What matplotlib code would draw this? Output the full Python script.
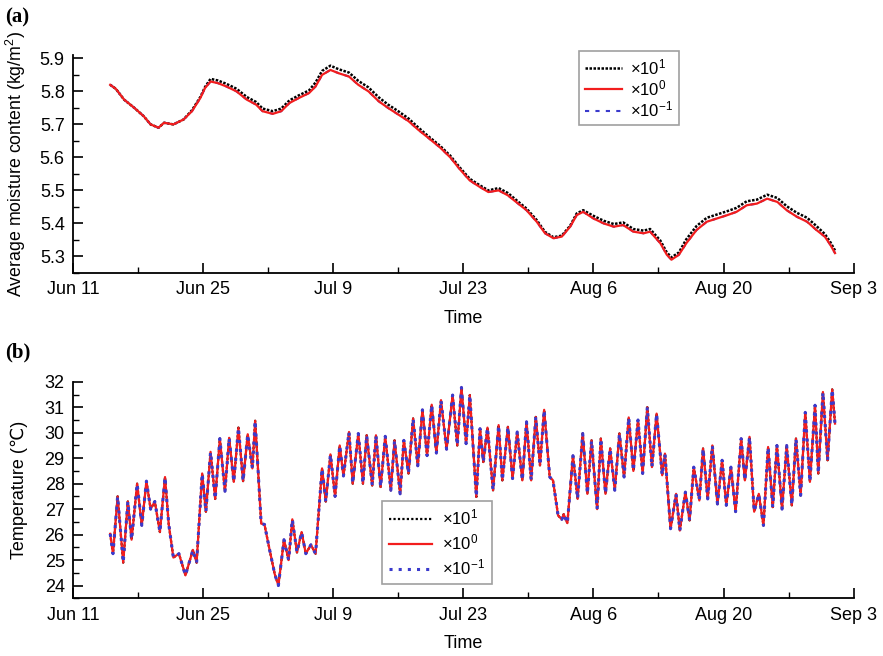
import matplotlib
matplotlib.use("Agg")
import matplotlib.pyplot as plt
from matplotlib.ticker import MultipleLocator

plt.rcParams['font.family'] = ['Liberation Sans', 'DejaVu Sans', 'Noto Sans CJK SC']
plt.rcParams['mathtext.fontset'] = 'custom'
plt.rcParams['mathtext.rm'] = 'Liberation Sans'
plt.rcParams['mathtext.it'] = 'Liberation Sans:italic'

# x axis: days since Jun 11
tick_days = [0, 14, 28, 42, 56, 70, 84]
tick_labels = ["Jun 11", "Jun 25", "Jul 9", "Jul 23", "Aug 6", "Aug 20", "Sep 3"]
series_labels = [r"$\times$10$^{1}$", r"$\times$10$^{0}$", r"$\times$10$^{-1}$"]

# (a) average moisture content
moist_day = [4.0, 4.6, 5.5, 6.6, 7.6, 8.35, 9.2, 9.8, 10.8, 11.9,
             12.8, 13.7, 14.2, 14.8, 15.6, 16.5, 17.6, 18.7, 19.7, 20.4,
             21.5, 22.4, 23.3, 24.3, 25.4, 26.1, 26.8, 27.7, 28.6, 29.7,
             30.7, 31.8, 32.9, 33.9, 35.0, 36.1, 37.1, 38.2, 39.5, 40.6,
             41.6, 42.7, 43.8, 44.7, 45.8, 46.8, 47.9, 48.8, 49.9, 50.8,
             51.7, 52.6, 53.5, 54.2, 54.9, 56.0, 57.1, 58.2, 59.2, 60.3,
             61.4, 62.1, 63.2, 63.9, 64.4, 65.2, 66.0, 67.1, 68.2, 69.3,
             70.4, 71.4, 72.5, 73.6, 74.7, 75.8, 76.8, 77.9, 79.0, 80.0,
             80.9, 81.5, 82.0]
moist_x1 = [5.82, 5.808, 5.775, 5.75, 5.725, 5.70, 5.69, 5.705, 5.70, 5.715,
            5.743, 5.783, 5.813, 5.838, 5.833, 5.823, 5.808, 5.783, 5.768, 5.748,
            5.740, 5.748, 5.773, 5.788, 5.803, 5.827, 5.862, 5.878, 5.867, 5.857,
            5.832, 5.812, 5.782, 5.76, 5.74, 5.718, 5.692, 5.665, 5.635, 5.605,
            5.57, 5.535, 5.515, 5.50, 5.507, 5.492, 5.466, 5.445, 5.41, 5.374,
            5.358, 5.363, 5.393, 5.43, 5.44, 5.423, 5.408, 5.398, 5.403, 5.383,
            5.378, 5.383, 5.348, 5.312, 5.297, 5.312, 5.352, 5.392, 5.417, 5.427,
            5.437, 5.447, 5.467, 5.472, 5.487, 5.477, 5.452, 5.432, 5.417, 5.392,
            5.368, 5.343, 5.318]
moist_x0 = [5.82, 5.808, 5.775, 5.75, 5.725, 5.70, 5.69, 5.705, 5.70, 5.715,
            5.74, 5.78, 5.81, 5.83, 5.825, 5.815, 5.80, 5.775, 5.76, 5.74,
            5.732, 5.74, 5.765, 5.78, 5.795, 5.815, 5.85, 5.865, 5.855, 5.845,
            5.82, 5.80, 5.77, 5.75, 5.73, 5.71, 5.685, 5.66, 5.63, 5.60,
            5.565, 5.53, 5.51, 5.495, 5.50, 5.485, 5.46, 5.44, 5.405, 5.37,
            5.355, 5.36, 5.39, 5.425, 5.435, 5.415, 5.40, 5.39, 5.395, 5.375,
            5.37, 5.375, 5.34, 5.305, 5.29, 5.305, 5.34, 5.38, 5.405, 5.415,
            5.425, 5.435, 5.455, 5.46, 5.475, 5.465, 5.44, 5.42, 5.405, 5.38,
            5.36, 5.335, 5.31]
# x10^-1 lies on top of x10^0
moist_xm1 = moist_x0

# (b) temperature, daily highs and lows
temp_day = [4.0, 4.3, 4.8, 5.4, 5.9, 6.3, 6.9, 7.4, 7.9, 8.35,
            8.8, 9.35, 9.9, 10.3, 10.8, 11.4, 12.1, 12.9, 13.3, 13.9,
            14.3, 14.8, 15.3, 15.8, 16.35, 16.8, 17.3, 17.8, 18.3, 18.8,
            19.3, 19.6, 20.25, 20.6, 21.1, 21.7, 22.1, 22.7, 23.2, 23.6,
            24.1, 24.6, 25.05, 25.6, 26.1, 26.8, 27.2, 27.7, 28.2, 28.7,
            29.1, 29.7, 30.1, 30.7, 31.2, 31.6, 32.2, 32.6, 33.1, 33.6,
            34.2, 34.6, 35.2, 35.6, 36.1, 36.6, 37.1, 37.6, 38.1, 38.6,
            39.1, 39.6, 40.2, 40.85, 41.35, 41.8, 42.3, 42.7, 43.4, 43.8,
            44.15, 44.6, 45.2, 45.8, 46.2, 46.8, 47.3, 47.8, 48.35, 48.8,
            49.3, 49.8, 50.25, 50.7, 51.3, 51.65, 52.2, 52.6, 52.8, 53.2,
            53.8, 54.3, 54.85, 55.35, 55.8, 56.4, 56.8, 57.3, 57.8, 58.3,
            58.8, 59.3, 59.8, 60.3, 60.8, 61.3, 61.8, 62.3, 62.8, 63.4,
            63.7, 64.3, 64.9, 65.3, 65.9, 66.35, 66.8, 67.4, 67.8, 68.3,
            68.8, 69.35, 69.85, 70.3, 70.8, 71.3, 71.9, 72.3, 72.8, 73.3,
            73.8, 74.3, 74.8, 75.3, 75.75, 76.3, 76.8, 77.35, 77.8, 78.3,
            78.8, 79.3, 79.85, 80.2, 80.7, 81.2, 81.7, 82.0]
temp_c = [26.03, 25.25, 27.5, 24.9, 27.3, 25.8, 28.0, 26.36, 28.1, 27.0,
          27.3, 26.1, 28.26, 26.4, 25.1, 25.25, 24.4, 25.4, 24.9, 28.4,
          26.9, 29.25, 27.4, 29.77, 27.7, 29.8, 28.07, 30.2, 28.1, 29.94,
          28.6, 30.47, 26.43, 26.4, 25.5, 24.46, 24.0, 25.8, 25.0, 26.6,
          25.3, 26.1, 25.25, 25.6, 25.25, 28.6, 27.3, 29.15, 27.5, 29.5,
          28.3, 30.03, 28.0, 29.97, 28.0, 29.9, 27.93, 29.9, 27.87, 29.86,
          27.74, 29.7, 27.6, 29.7, 28.4, 30.56, 28.7, 30.9, 29.1, 31.1,
          29.2, 31.28, 29.35, 31.48, 29.5, 31.78, 29.57, 31.48, 27.48, 30.16,
          28.85, 30.2, 27.74, 30.3, 28.13, 30.23, 28.2, 30.03, 28.13, 30.43,
          28.13, 30.62, 28.72, 30.9, 28.26, 28.13, 26.75, 26.6, 26.8, 26.45,
          29.1, 27.4, 29.97, 27.6, 29.7, 27.0, 29.77, 27.6, 29.38, 27.74,
          29.97, 28.26, 30.6, 28.5, 30.5, 28.4, 31.0, 28.65, 30.75, 28.33,
          29.18, 26.23, 27.6, 26.16, 27.67, 26.56, 28.65, 27.34, 29.38, 27.4,
          29.5, 27.2, 28.92, 27.15, 28.65, 26.9, 29.77, 28.13, 29.84, 26.9,
          27.6, 26.36, 29.44, 27.08, 29.5, 27.0, 29.5, 27.15, 29.77, 27.54,
          30.8, 28.07, 31.08, 28.4, 31.6, 28.92, 31.7, 30.36]

RED = "#f21d1d"
BLUE = "#3a3acc"
FS = 13


def style_axis(ax, ylim, ymajor, yminor):
    ax.set_xlim(0, 84)
    ax.set_ylim(*ylim)
    ax.set_xticks(tick_days)
    ax.set_xticklabels(tick_labels)
    ax.xaxis.set_minor_locator(MultipleLocator(7))
    ax.yaxis.set_major_locator(MultipleLocator(ymajor))
    ax.yaxis.set_minor_locator(MultipleLocator(yminor))
    for s in ["top", "right"]:
        ax.spines[s].set_visible(False)
    for s in ["left", "bottom"]:
        ax.spines[s].set_linewidth(1.3)
    ax.tick_params(which="major", direction="in", length=7, width=1.2,
                   labelsize=FS, pad=6)
    ax.tick_params(which="minor", direction="in", length=4, width=1.0)
    ax.set_xlabel("Time", fontsize=FS)
    ax.xaxis.set_label_coords(0.5, -0.17)
    ax.yaxis.set_label_coords(-0.058, 0.5)


def style_legend(leg):
    leg.get_frame().set_edgecolor("#888888")
    leg.get_frame().set_linewidth(1.2)


fig = plt.figure(figsize=(8.83, 6.56), dpi=100)

# panel (a)
ax1 = fig.add_axes([0.0827, 0.584, 0.884, 0.332])
l1, = ax1.plot(moist_day, moist_x1, color="black", lw=1.8,
               linestyle=(0, (1, 0.6)), zorder=2)
l3, = ax1.plot(moist_day, moist_xm1, color=BLUE, lw=1.5,
               linestyle=(0, (2, 3)), zorder=3)
l2, = ax1.plot(moist_day, moist_x0, color=RED, lw=1.6, zorder=4)
style_axis(ax1, (5.25, 5.91), 0.1, 0.05)
ax1.set_yticks([5.3, 5.4, 5.5, 5.6, 5.7, 5.8, 5.9])
ax1.set_ylabel(r"Average moisture content (kg/m$^2$)", fontsize=12.8)
leg1 = ax1.legend([l1, l2, l3], series_labels, loc="upper left",
                  bbox_to_anchor=(0.656, 0.922), bbox_transform=fig.transFigure,
                  fontsize=12, frameon=True, fancybox=False, handlelength=2.2,
                  labelspacing=0.08, borderpad=0.35, handletextpad=0.5,
                  borderaxespad=0)
style_legend(leg1)

# panel (b)
ax2 = fig.add_axes([0.0827, 0.088, 0.884, 0.33])
m1, = ax2.plot(temp_day, temp_c, color="black", lw=1.6,
               linestyle=(0, (1, 1)), zorder=2)
m2, = ax2.plot(temp_day, temp_c, color=RED, lw=1.6, zorder=3)
m3, = ax2.plot(temp_day, temp_c, color=BLUE, lw=2.2,
               linestyle=(0, (1, 2)), zorder=4)
style_axis(ax2, (23.5, 32), 1, 0.5)
ax2.set_ylabel("Temperature (\u2103)", fontsize=FS)
leg2 = ax2.legend([m1, m2, m3], series_labels, loc="upper left",
                  bbox_to_anchor=(0.433, 0.236), bbox_transform=fig.transFigure,
                  fontsize=12, frameon=True, fancybox=False, handlelength=2.6,
                  labelspacing=0.3, borderpad=0.4, handletextpad=0.6,
                  borderaxespad=0)
style_legend(leg2)

fig.text(0.006, 0.965, "(a)", fontsize=15, fontweight="bold",
         family="Liberation Serif")
fig.text(0.006, 0.455, "(b)", fontsize=15, fontweight="bold",
         family="Liberation Serif")

fig.savefig("out.png", dpi=100)
